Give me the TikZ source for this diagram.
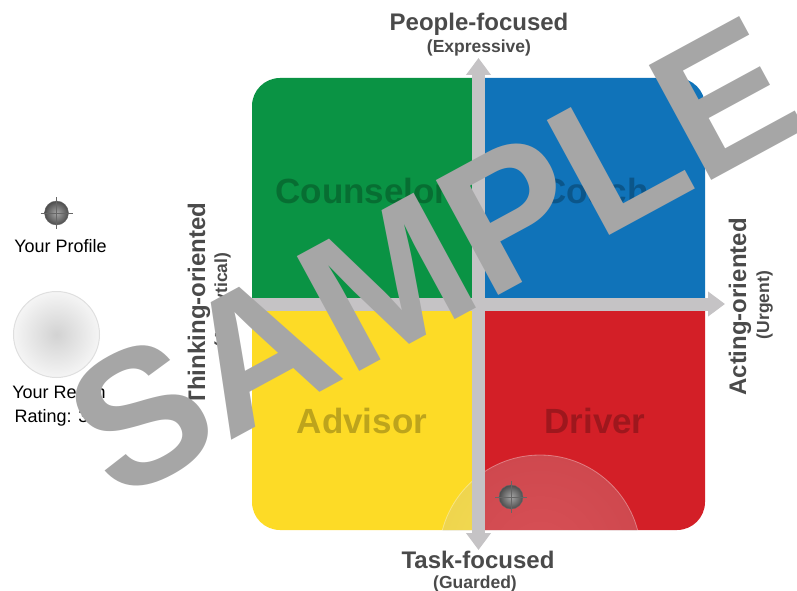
\documentclass[tikz,border=0pt]{standalone}
\usepackage{fontspec}
\setmainfont{Liberation Sans}
\usetikzlibrary{arrows.meta}
\definecolor{qgreen}{HTML}{0A9344}
\definecolor{qblue}{HTML}{1073B9}
\definecolor{qyellow}{HTML}{FDDB26}
\definecolor{qred}{HTML}{D31F27}
\definecolor{axisgray}{HTML}{C5C3C5}
\definecolor{labelgray}{HTML}{4A4A4A}
\definecolor{wmgray}{HTML}{A6A6A6}
\tikzset{
  axislabel/.style={font=\fontsize{24}{28}\bfseries\selectfont, text=labelgray, inner sep=0},
  axissub/.style={font=\fontsize{17.5}{20}\bfseries\selectfont, text=labelgray, inner sep=0},
  quadlabel/.style={font=\fontsize{35}{40}\bfseries\selectfont, text=black, text opacity=0.25, inner sep=0},
  legendtext/.style={font=\fontsize{18}{20}\selectfont, text=black, inner sep=0},
  axisbar/.style={draw=axisgray, line width=13pt},
  crosshair/.pic={
    \shade[inner color=black!35, outer color=black!70, draw=black!60, line width=0.4pt] (0,0) circle[radius=12];
    \draw[black!60, line width=0.7pt] (-16,0) -- (16,0) (0,-16) -- (0,16);
  }
}
\begin{document}
\begin{tikzpicture}[x=1pt,y=-1pt]
\useasboundingbox (0,0) rectangle (797,591);
% quadrants
\begin{scope}
  \clip (252,78) rectangle (472,298);
  \fill[qgreen, rounded corners=28pt] (252,78) rectangle (705,530);
\end{scope}
\begin{scope}
  \clip (485,78) rectangle (705,298);
  \fill[qblue, rounded corners=28pt] (252,78) rectangle (705,530);
\end{scope}
\begin{scope}
  \clip (252,310) rectangle (472,530);
  \fill[qyellow, rounded corners=28pt] (252,78) rectangle (705,530);
\end{scope}
\begin{scope}
  \clip (485,310) rectangle (705,530);
  \fill[qred, rounded corners=28pt] (252,78) rectangle (705,530);
\end{scope}
% quadrant labels
\node[quadlabel, anchor=base] (counselor) at (362,203) {Counselor};
\node[quadlabel, anchor=base] (coach) at (595,203) {Coach};
\node[quadlabel, anchor=base] (advisor) at (362,433) {Advisor};
\node[quadlabel, anchor=base] (driver) at (595,433) {Driver};
% reach circle
\begin{scope}
  \clip (252,78) rectangle (705,530);
  \shade[inner color=white!80!gray, outer color=white!55!gray, fill opacity=0.25] (540,556) circle[radius=101];
  \draw[white, opacity=0.35, line width=0.8pt] (540,556) circle[radius=101];
\end{scope}
% axes
\coordinate (top) at (478.5,58);
\coordinate (bottom) at (478.5,550);
\coordinate (left) at (252,304);
\coordinate (right) at (725,304);
\draw[axisbar, -{Triangle[width=24pt,length=17pt]}] (left) -- (right);
\draw[axisbar, {Triangle[width=24pt,length=17pt]}-{Triangle[width=24pt,length=17pt]}] (bottom) -- (top);
% profile marker in chart
\pic (profilepos) at (511,497) {crosshair};
% axis labels
\node[axislabel, anchor=base] (people) at (479,31) {People-focused};
\node[axissub, anchor=base] (expressive) at (479,53) {(Expressive)};
\node[axislabel, anchor=base] (task) at (478,568) {Task-focused};
\node[axissub, anchor=base] (guarded) at (475,588) {(Guarded)};
\node[axislabel, anchor=base, rotate=90] (acting) at (746,307) {Acting-oriented};
\node[axissub, anchor=base, rotate=90] (urgent) at (769,305) {(Urgent)};
\node[axislabel, anchor=base, rotate=90] (thinking) at (205,304) {Thinking-oriented};
\node[axissub, anchor=base, rotate=90] (analytical) at (227,300) {(Analytical)};
% legend
\pic (legendmarker) at (56.5,213) {crosshair};
\node[legendtext, anchor=base] (yourprofile) at (60.5,252) {Your Profile};
\shade[inner color=gray!35, outer color=gray!8, draw=gray!25, line width=1pt] (56.5,334.5) circle[radius=43];
\node[legendtext, anchor=base] (reach1) at (59,398) {Your Reach};
\node[legendtext, anchor=base] (reach2) at (59,422) {Rating: 3.4};
% watermark
\node[font=\fontsize{190}{190}\bfseries\selectfont, text=wmgray, rotate=28.5, inner sep=0] (sample) at (433,257) {SAMPLE};
\end{tikzpicture}
\end{document}
